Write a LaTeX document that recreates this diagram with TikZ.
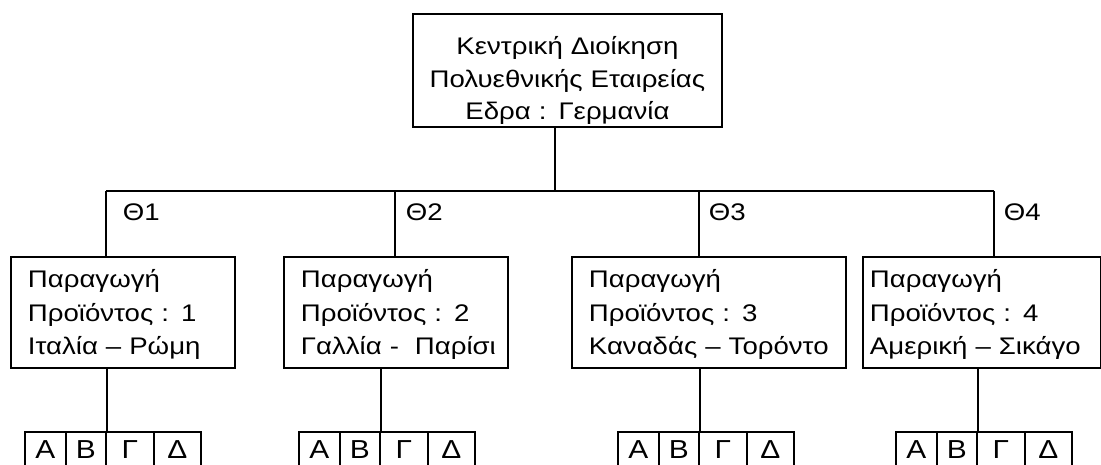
\documentclass[tikz,border=0pt]{standalone}
\usepackage{fontspec}
\setmainfont[FakeStretch=1.15,WordSpace=0.8]{Liberation Sans}
\newcommand\oneline[1]{\mbox{#1}}
\begin{document}
\begin{tikzpicture}[x=1pt,y=-1pt, line width=1.9pt,
  font=\fontsize{24}{33.5}\selectfont,
  hqbox/.style={draw, anchor=north west, inner sep=0pt, align=center,
    font=\fontsize{24}{32.5}\selectfont},
  pbox/.style={draw, anchor=north west, inner xsep=17pt, inner ysep=0pt, align=left},
  cell/.style={draw, anchor=north west, inner sep=0pt, minimum height=54pt,
    text height=0pt, text depth=0pt, font=\fontsize{26}{30}\selectfont},
  lab/.style={anchor=base west, inner sep=0pt}]
\useasboundingbox (0,0) rectangle (1101,464);
\clip (0,0) rectangle (1101,464);

% head office
\node[hqbox, text width=309pt] (hq) at (412,13)
  {\rule{0pt}{41pt}Κεντρική Διοίκηση\\Πολυεθνικής Εταιρείας\\Εδρα : Γερμανία\rule[-7pt]{0pt}{7pt}};

% bus
\coordinate (bus) at (555,191);
\coordinate (t1) at (106,191);
\coordinate (t2) at (395,191);
\coordinate (t3) at (699,191);
\coordinate (t4) at (994,191);
\draw (bus |- hq.south) -- (bus);
\draw (t1) -- (t4);

% production boxes
\node[pbox, text width=190pt] (p1) at (10,256)
  {\rule{0pt}{31pt}\oneline{Παραγωγή}\\\oneline{Προϊόντος : 1}\\\oneline{Ιταλία – Ρώμη}\rule[-13pt]{0pt}{13pt}};
\node[pbox, text width=190pt] (p2) at (283,256)
  {\rule{0pt}{31pt}\oneline{Παραγωγή}\\\oneline{Προϊόντος : 2}\\\oneline{Γαλλία -\ \ Παρίσι}\rule[-13pt]{0pt}{13pt}};
\node[pbox, text width=240pt] (p3) at (571,256)
  {\rule{0pt}{31pt}\oneline{Παραγωγή}\\\oneline{Προϊόντος : 3}\\\oneline{Καναδάς – Τορόντο}\rule[-13pt]{0pt}{13pt}};
\node[pbox, inner xsep=7pt, text width=224pt] (p4) at (862,256)
  {\rule{0pt}{31pt}\oneline{Παραγωγή}\\\oneline{Προϊόντος : 4}\\\oneline{Αμερική – Σικάγο}\rule[-13pt]{0pt}{13pt}};

\foreach \i in {1,2,3,4}{
  \draw (t\i) -- (t\i |- p\i.north);
}

% labels
\node[lab] (th1) at (122,220) {Θ1};
\node[lab] (th2) at (405,220) {Θ2};
\node[lab] (th3) at (708,220) {Θ3};
\node[lab] (th4) at (1003,220) {Θ4};

% department cells
\foreach \g/\d in {1/105,2/379,3/698,4/976}{
  \node[cell, minimum width=41pt] (c\g a) at (\d-81,431) {Α};
  \node[cell, minimum width=40pt] (c\g b) at (\d-40,431) {Β};
  \node[cell, minimum width=48pt] (c\g c) at (\d,431) {Γ};
  \node[cell, minimum width=47pt] (c\g d) at (\d+48,431) {Δ};
  \draw (c\g b.north east |- p\g.south) -- (c\g b.north east);
}
\end{tikzpicture}
\end{document}
